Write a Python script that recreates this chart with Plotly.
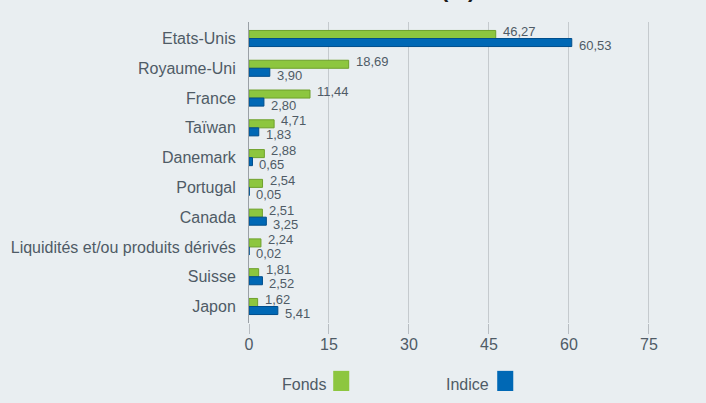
import plotly.graph_objects as go

categories = ["Etats-Unis", "Royaume-Uni", "France", "Taïwan", "Danemark", "Portugal",
              "Canada", "Liquidités et/ou produits dérivés", "Suisse", "Japon"]
fonds = [46.27, 18.69, 11.44, 4.71, 2.88, 2.54, 2.51, 2.24, 1.81, 1.62]
indice = [60.53, 3.90, 2.80, 1.83, 0.65, 0.05, 3.25, 0.02, 2.52, 5.41]
x_ticks = [0, 15, 30, 45, 60, 75]

GREEN = "#8DC63F"
GREEN_EDGE = "#6FA02C"
BLUE = "#0068B5"
BLUE_EDGE = "#004E8C"
TEXT = "#4F5B66"
BG = "#E9EEF1"
FONT = "Liberation Sans, Arial, sans-serif"

def fmt(v):
    return f"{v:.2f}".replace(".", ",")

fig = go.Figure()
fig.add_trace(go.Bar(y=categories, x=fonds, orientation="h", name="Fonds",
                     marker=dict(color=GREEN, line=dict(color=GREEN_EDGE, width=1))))
fig.add_trace(go.Bar(y=categories, x=indice, orientation="h", name="Indice",
                     marker=dict(color=BLUE, line=dict(color=BLUE_EDGE, width=1))))

annotations = []
for c, f, i in zip(categories, fonds, indice):
    annotations.append(dict(x=f, y=c, xref="x", yref="y", text=fmt(f), showarrow=False,
                            xanchor="left", yanchor="middle", xshift=5, yshift=7,
                            font=dict(size=13, color=TEXT, family=FONT)))
    annotations.append(dict(x=i, y=c, xref="x", yref="y", text=fmt(i), showarrow=False,
                            xanchor="left", yanchor="middle", xshift=5, yshift=-7,
                            font=dict(size=13, color=TEXT, family=FONT)))

# partially visible title (cut off at the top edge, as in the reference)
annotations.append(dict(x=0.52, y=1, xref="paper", yref="paper", text="<b>(%)</b>",
                        showarrow=False, xanchor="center", yanchor="bottom", yshift=18,
                        font=dict(size=22, color="#1a1a1a", family=FONT)))

# custom legend (text followed by square)
annotations.append(dict(x=0.197, y=-0.205, xref="paper", yref="paper", text="Fonds",
                        showarrow=False, xanchor="right", yanchor="middle",
                        font=dict(size=16, color=TEXT, family=FONT)))
annotations.append(dict(x=0.603, y=-0.205, xref="paper", yref="paper", text="Indice",
                        showarrow=False, xanchor="right", yanchor="middle",
                        font=dict(size=16, color=TEXT, family=FONT)))

shapes = [
    dict(type="rect", xref="paper", yref="paper", x0=0.21, x1=0.25, y0=-0.226, y1=-0.159,
         fillcolor=GREEN, line=dict(width=0)),
    dict(type="rect", xref="paper", yref="paper", x0=0.619, x1=0.659, y0=-0.226, y1=-0.159,
         fillcolor=BLUE, line=dict(width=0)),
]

fig.update_layout(
    width=706, height=403,
    margin=dict(l=249, r=56, t=22, b=80, autoexpand=False),
    paper_bgcolor=BG, plot_bgcolor=BG,
    barmode="group", bargap=0.46, bargroupgap=0,
    showlegend=False,
    annotations=annotations, shapes=shapes,
    font=dict(family=FONT, color=TEXT),
    xaxis=dict(range=[0, 75.2], tickvals=x_ticks, showgrid=True, gridcolor="#C5CACE",
               gridwidth=1, zeroline=False, ticks="outside", ticklen=10,
               tickcolor="#B8BDC2", tickfont=dict(size=16, color=TEXT, family=FONT),
               ticklabelstandoff=-3,
               showline=False, automargin=False),
    yaxis=dict(autorange="reversed", showgrid=False, showline=True, linecolor="#9AA0A6",
               linewidth=1, ticks="", ticklabelstandoff=9, automargin=False,
               tickfont=dict(size=16, color=TEXT, family=FONT)),
)

fig.write_html("out.html", config={"displayModeBar": False},
               post_script="document.body.style.margin='0';document.body.style.padding='0';")
